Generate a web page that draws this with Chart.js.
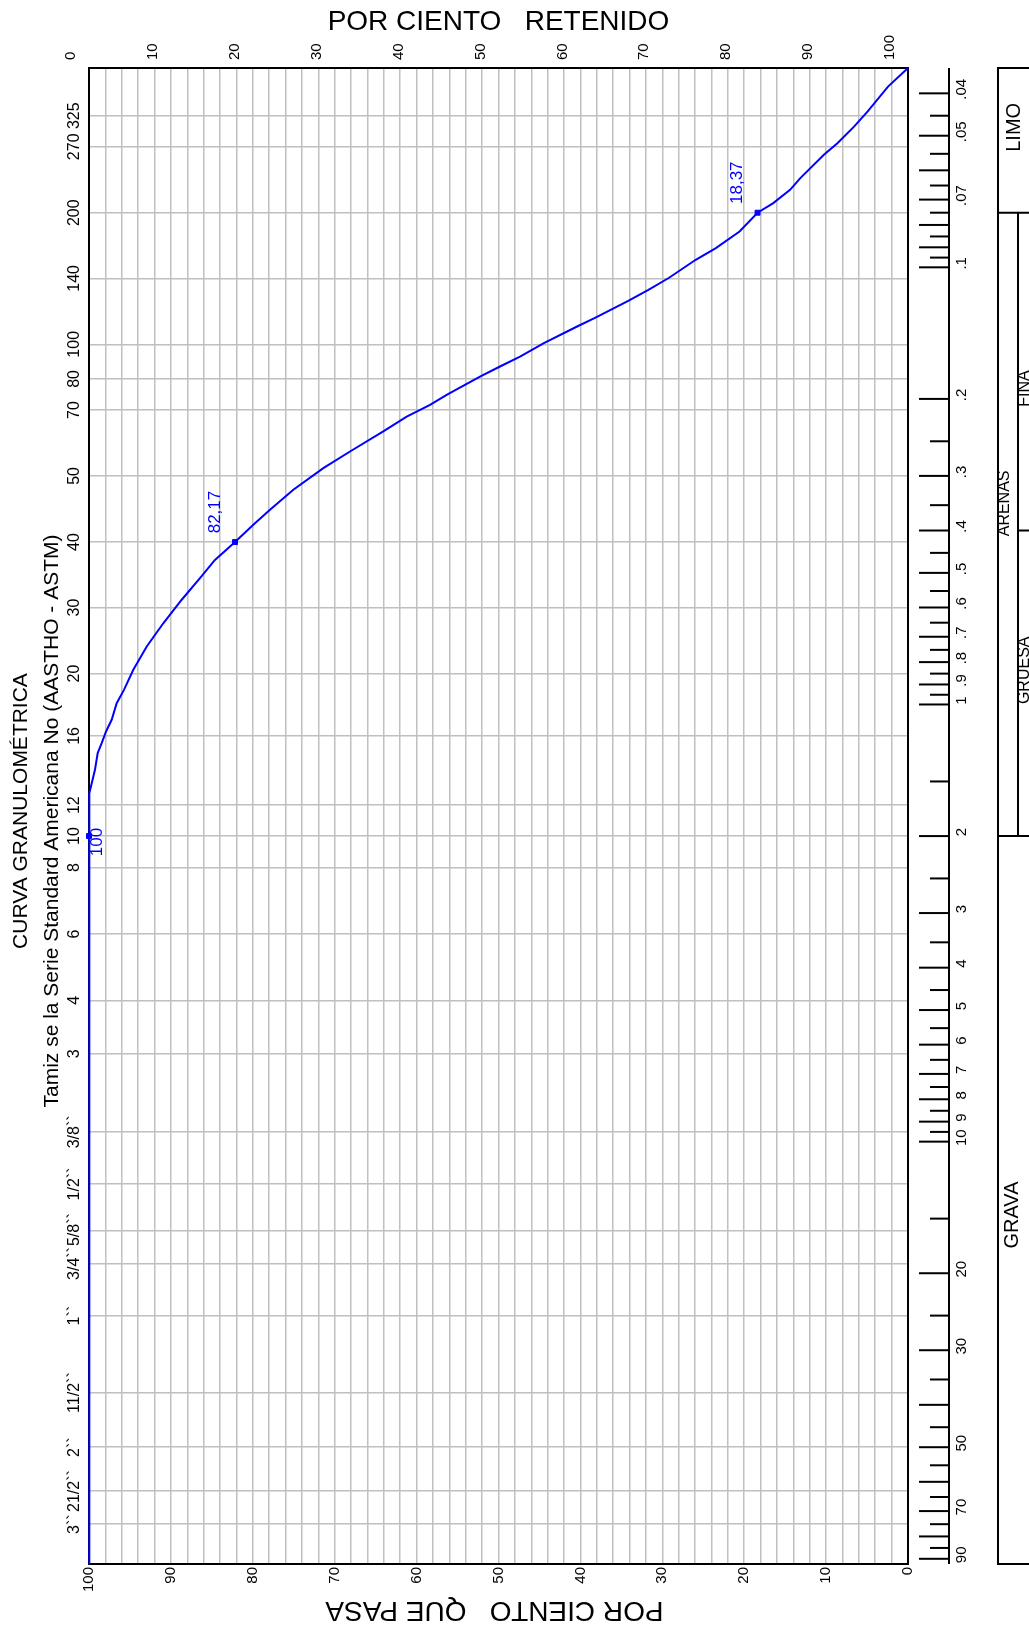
<!DOCTYPE html>
<html>
<head>
<meta charset="utf-8">
<script src="https://cdn.jsdelivr.net/npm/chart.js@4.4.1/dist/chart.umd.min.js"></script>
<style>
  html, body { margin: 0; padding: 0; background: #fff; }
  canvas { display: block; }
</style>
</head>
<body>
<canvas id="curva" width="1029" height="1627"></canvas>
<script>
// tamices (mm) y su nombre ASTM
const sieveSizes = [75, 63, 50, 37.5, 25, 19, 16, 12.5, 9.5, 6.3, 4.75, 3.35, 2.36, 2.0, 1.7, 1.18, 0.85, 0.6, 0.425, 0.3, 0.212, 0.18, 0.15, 0.106, 0.075, 0.053, 0.045];
const sieveNames = ["3``", "21/2``", "2``", "11/2``", "1``", "3/4``", "5/8``", "1/2``", "3/8``", "3", "4", "6", "8", "10", "12", "16", "20", "30", "40", "50", "70", "80", "100", "140", "200", "270", "325"];

// rango del eje de tamaños (mm)
const sizeMin = 0.035;
const sizeMax = 92.5;

// curva: tamaño (mm) y % que pasa
const curveSize = [92.5, 2.0, 1.76, 1.596, 1.411, 1.292, 1.226, 1.153, 1.084, 0.993, 0.926, 0.833, 0.737, 0.652, 0.576, 0.514, 0.467, 0.425, 0.388, 0.3587, 0.3228, 0.288, 0.2638, 0.2374, 0.2195, 0.2064, 0.1957, 0.1778, 0.1686, 0.160, 0.1491, 0.1364, 0.1307, 0.1193, 0.1126, 0.1058, 0.0961, 0.0904, 0.0828, 0.075, 0.0713, 0.0665, 0.0625, 0.0553, 0.0520, 0.0476, 0.0440, 0.0386, 0.035];
const curvePass = [100, 100, 100, 99.88, 99.27, 98.94, 98.45, 97.92, 97.23, 96.62, 95.73, 94.59, 92.95, 90.93, 88.68, 86.45, 84.62, 82.17, 79.94, 77.90, 75.05, 71.39, 68.13, 64.07, 61.21, 58.36, 56.33, 52.26, 49.82, 47.37, 44.46, 40.34, 38.28, 34.16, 31.70, 29.22, 25.92, 23.46, 20.57, 18.37, 16.45, 14.40, 13.15, 10.27, 8.62, 6.56, 4.92, 2.44, 0];

// puntos de ensayo
const testSize = [2.0, 0.425, 0.075];
const testPass = [100, 82.17, 18.37];
const testLabel = ["100", "82,17", "18,37"];

// escala en mm (derecha)
const mmMajor = [0.04, 0.05, 0.06, 0.07, 0.08, 0.09, 0.1, 0.2, 0.3, 0.4, 0.5, 0.6, 0.7, 0.8, 0.9, 1, 2, 3, 4, 5, 6, 7, 8, 9, 10, 20, 30, 40, 50, 60, 70, 80, 90];
const mmMinor = [0.045, 0.055, 0.065, 0.075, 0.085, 0.095, 0.25, 0.35, 0.45, 0.55, 0.65, 0.75, 0.85, 0.95, 1.5, 2.5, 3.5, 4.5, 5.5, 6.5, 7.5, 8.5, 9.5, 15, 25, 35, 45, 55, 65, 75, 85];
const mmLabelValues = [0.04, 0.05, 0.07, 0.1, 0.2, 0.3, 0.4, 0.5, 0.6, 0.7, 0.8, 0.9, 1, 2, 3, 4, 5, 6, 7, 8, 9, 10, 20, 30, 50, 70, 90];
const mmLabelText = [".04", ".05", ".07", ".1", ".2", ".3", ".4", ".5", ".6", ".7", ".8", ".9", "1", "2", "3", "4", "5", "6", "7", "8", "9", "10", "20", "30", "50", "70", "90"];

// clasificación
const zoneNames = ["LIMO", "ARENAS", "GRAVA"];
const zoneLimits = [sizeMin, 0.075, 2.0, sizeMax];
const sandNames = ["FINA", "GRUESA"];
const sandLimits = [0.075, 0.4, 2.0];

const FONT = "'Liberation Sans', Arial, sans-serif";
const BLUE = "#0000ff";
const GRID = "#c0c0c0";

function vText(ctx, text, x, y, align) {
    ctx.save();
    ctx.translate(x, y);
    ctx.rotate(-Math.PI / 2);
    ctx.textAlign = align || "center";
    ctx.textBaseline = "middle";
    ctx.fillText(text, 0, 0);
    ctx.restore();
}

function line(ctx, x1, y1, x2, y2) {
    ctx.beginPath();
    ctx.moveTo(x1, y1);
    ctx.lineTo(x2, y2);
    ctx.stroke();
}

const extras = {
    id: "extras",
    afterDraw(chart) {
        const ctx = chart.ctx;
        const area = chart.chartArea;
        const ys = chart.scales.y;
        const xs = chart.scales.x2;
        const midY = (area.top + area.bottom) / 2;

        ctx.save();
        ctx.fillStyle = "#000";
        ctx.strokeStyle = "#000";

        // titulos
        ctx.font = "21px " + FONT;
        vText(ctx, "CURVA GRANULOMÉTRICA", 21, midY - 5);
        vText(ctx, "Tamiz se la Serie Standard Americana No (AASTHO - ASTM)", 52, midY + 5);

        ctx.save();
        ctx.font = "28px " + FONT;
        ctx.translate((area.left + area.right) / 2 - 4, 1610);
        ctx.rotate(Math.PI);
        ctx.textAlign = "center";
        ctx.textBaseline = "middle";
        ctx.fillText("POR CIENTO   QUE PASA", 0, 0);
        ctx.restore();

        // nombres de tamices
        ctx.font = "16px " + FONT;
        let prevTop = Infinity;
        sieveSizes.forEach((s, i) => {
            const w = ctx.measureText(sieveNames[i]).width;
            let c = ys.getPixelForValue(s);
            if (c + w / 2 > prevTop - 1) c = prevTop - 1 - w / 2;
            vText(ctx, sieveNames[i], 75, c);
            prevTop = c - w / 2;
        });

        // escala en mm
        const axX = 949;
        ctx.lineWidth = 2;
        line(ctx, axX, area.top, axX, area.bottom);
        mmMajor.forEach(v => {
            const p = ys.getPixelForValue(v);
            line(ctx, axX - 30, p, axX, p);
        });
        mmMinor.forEach(v => {
            const p = ys.getPixelForValue(v);
            line(ctx, axX - 19, p, axX, p);
        });
        ctx.font = "15px " + FONT;
        mmLabelValues.forEach((v, i) => {
            vText(ctx, mmLabelText[i], 962, ys.getPixelForValue(v) - 4);
        });

        // cuadro de clasificacion
        const bx = 998, bx2 = 1018, bR = 1040;
        ctx.strokeRect(bx, area.top, bR - bx, area.bottom - area.top);
        const yL = ys.getPixelForValue(zoneLimits[1]);
        const yG = ys.getPixelForValue(zoneLimits[2]);
        const yS = ys.getPixelForValue(sandLimits[1]);
        line(ctx, bx, yL, bR, yL);
        line(ctx, bx, yG, bR, yG);
        line(ctx, bx2, yL, bx2, yG);
        line(ctx, bx2, yS, bR, yS);

        const zoneNudge = [-13, -21, 15];
        const zoneX = [1014, 1005, 1012];
        const zoneFont = [20, 16, 20];
        zoneNames.forEach((n, i) => {
            const a = ys.getPixelForValue(zoneLimits[i]);
            const b = ys.getPixelForValue(zoneLimits[i + 1]);
            ctx.font = zoneFont[i] + "px " + FONT;
            vText(ctx, n, zoneX[i], (a + b) / 2 + zoneNudge[i]);
        });
        const sandNudge = [17, -13];
        ctx.font = "16px " + FONT;
        sandNames.forEach((n, i) => {
            const a = ys.getPixelForValue(sandLimits[i]);
            const b = ys.getPixelForValue(sandLimits[i + 1]);
            vText(ctx, n, 1025, (a + b) / 2 + sandNudge[i]);
        });

        // etiquetas de los ensayos
        ctx.fillStyle = BLUE;
        ctx.font = "17px " + FONT;
        testSize.forEach((s, i) => {
            const px = xs.getPixelForValue(testPass[i]);
            const py = ys.getPixelForValue(s);
            if (px - 20 < area.left + 8) {
                vText(ctx, testLabel[i], px + 8, py + 6);
            } else {
                vText(ctx, testLabel[i], px - 20, py - 30);
            }
        });

        ctx.restore();
    }
};

const tickFont = { size: 15, family: FONT };

new Chart(document.getElementById("curva"), {
    type: "scatter",
    data: {
        datasets: [
            {
                label: "curva",
                data: curveSize.map((s, i) => ({ x: curvePass[i], y: s })),
                xAxisID: "x2",
                yAxisID: "y",
                showLine: true,
                borderColor: BLUE,
                borderWidth: 2,
                pointRadius: 0,
                tension: 0,
                clip: false
            },
            {
                label: "ensayos",
                data: testSize.map((s, i) => ({ x: testPass[i], y: s })),
                xAxisID: "x2",
                yAxisID: "y",
                showLine: false,
                pointStyle: "rect",
                pointRadius: 3.5,
                backgroundColor: BLUE,
                borderColor: BLUE,
                clip: false
            }
        ]
    },
    options: {
        responsive: false,
        animation: false,
        devicePixelRatio: 1,
        layout: { padding: { top: 0, left: 89, right: 121, bottom: 33 } },
        plugins: { legend: { display: false }, tooltip: { enabled: false } },
        scales: {
            x: {
                type: "linear",
                position: "top",
                min: 0,
                max: 100,
                ticks: {
                    stepSize: 2,
                    autoSkip: false,
                    minRotation: 90,
                    maxRotation: 90,
                    padding: 8,
                    color: "#000",
                    font: tickFont,
                    callback: v => (v % 10 === 0 ? v : "")
                },
                grid: { color: GRID, lineWidth: 1.5, drawTicks: false },
                border: { color: "#000", width: 2 },
                title: {
                    display: true,
                    text: "POR CIENTO   RETENIDO",
                    color: "#000",
                    font: { size: 28, family: FONT },
                    padding: { top: 5, bottom: 0 }
                },
                afterFit: s => { s.height = 68; }
            },
            x2: {
                type: "linear",
                position: "bottom",
                reverse: true,
                min: 0,
                max: 100,
                ticks: {
                    stepSize: 10,
                    autoSkip: false,
                    minRotation: 90,
                    maxRotation: 90,
                    padding: 3,
                    color: "#000",
                    font: tickFont
                },
                grid: { display: false, drawTicks: false },
                border: { color: "#000", width: 2 },
                afterFit: s => { s.height = 30; }
            },
            y: {
                type: "logarithmic",
                position: "left",
                reverse: true,
                min: sizeMin,
                max: sizeMax,
                afterBuildTicks: s => { s.ticks = sieveSizes.map(v => ({ value: v })); },
                ticks: { display: false },
                grid: { color: GRID, lineWidth: 1.5, drawTicks: false },
                border: { color: "#000", width: 2 },
                afterFit: s => { s.width = 0; }
            },
            yR: {
                type: "logarithmic",
                position: "right",
                reverse: true,
                min: sizeMin,
                max: sizeMax,
                ticks: { display: false },
                grid: { display: false, drawTicks: false },
                border: { color: "#000", width: 2 },
                afterFit: s => { s.width = 0; }
            }
        }
    },
    plugins: [extras]
});
</script>
</body>
</html>
